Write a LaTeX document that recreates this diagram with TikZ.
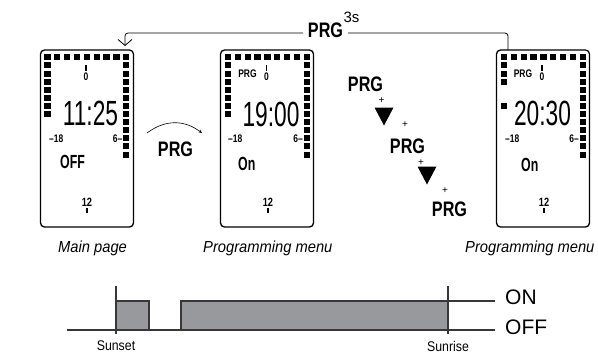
\documentclass[tikz,border=0pt]{standalone}
\usepackage{fontspec}
\setmainfont{Liberation Sans}
\newfontfamily\prgfont[FakeStretch=0.77]{Liberation Sans}
\newfontfamily\lcdfont[FakeStretch=0.65]{Liberation Sans}
\newfontfamily\capfont[FakeStretch=0.92]{Liberation Sans}
\newfontfamily\narrowfont[FakeStretch=0.88]{Liberation Sans}
\usetikzlibrary{arrows.meta}
\definecolor{blockgray}{RGB}{152,153,156}
\definecolor{linegray}{RGB}{55,55,58}
\newcommand\lcdsquares[2]{%
  \foreach \i in {0,...,8} \fill ({#1+4.3+\i*9.85},54.3) rectangle ++(6.3,6);
  \foreach \j in {1,...,12} \fill ({#1+83.1},{54.3+\j*8.1}) rectangle ++(6.3,6);
  \foreach \j in {#2} \fill ({#1+4.3},{54.3+\j*8.1}) rectangle ++(6.3,6);
}
\begin{document}
\begin{tikzpicture}[x=1pt,y=-1pt,
  lcd/.style={draw, line width=1.3pt, rounded corners=4pt, minimum width=93pt, minimum height=177pt, inner sep=0pt},
  prg/.style={font=\prgfont\bfseries\fontsize{21}{21}\selectfont, inner sep=0pt},
  lsmall/.style={font=\prgfont\bfseries\fontsize{11}{11}\selectfont, inner sep=0pt},
  lnum/.style={font=\prgfont\bfseries\fontsize{12}{12}\selectfont, inner sep=0pt},
  lcdtime/.style={font=\lcdfont\fontsize{35}{35}\selectfont, inner sep=0pt},
  lcdstate/.style={font=\lcdfont\bfseries\fontsize{19}{19}\selectfont, inner sep=0pt, anchor=west},
  caption/.style={font=\capfont\itshape\fontsize{16}{16}\selectfont, inner sep=0pt, anchor=base west},
  plus/.style={font=\fontsize{10}{10}\selectfont, inner sep=0pt},
  tickmark/.style={line width=1.1pt},
  tl/.style={draw=linegray, line width=1.2pt},
  onoff/.style={font=\fontsize{21}{21}\selectfont, inner sep=0pt, anchor=west},
  sun/.style={font=\narrowfont\fontsize{14}{14}\selectfont, inner sep=0pt}
]
\useasboundingbox (0,0) rectangle (598,354);

% LCD frames
\node[lcd] (b1) at (87,138.5) {};
\node[lcd] (b2) at (267,138.5) {};
\node[lcd] (b3) at (543,138.5) {};
\lcdsquares{40}{0,...,7}
\lcdsquares{220.5}{0,...,7}
\lcdsquares{496.5}{0,1,2,3,6}

% Box 1
\draw[tickmark] (86,65) -- (86,71);
\node[lsmall] (z1) at (86,76.5) {0};
\node[lcdtime] (t1) at (90.5,113) {11:25};
\node[lsmall, anchor=west] (m1) at (49,139) {\textendash18};
\node[lsmall, anchor=east] (s1) at (122.5,139) {6\textendash};
\node[lcdstate] (st1) at (60,162) {OFF};
\node[lnum] (d1) at (87,202) {12};
\draw[tickmark] (87,208) -- (87,213);

% Box 2
\node[lsmall] (q2) at (247.5,74) {PRG};
\draw[tickmark] (266.5,65) -- (266.5,71);
\node[lsmall] (z2) at (266.5,76.5) {0};
\node[lcdtime] (t2) at (271,114) {19:00};
\node[lsmall, anchor=west] (m2) at (228,139) {\textendash18};
\node[lsmall, anchor=east] (s2) at (303,139) {6\textendash};
\node[lcdstate] (st2) at (238,163.5) {On};
\node[lnum] (d2) at (268,202) {12};
\draw[tickmark] (268,208) -- (268,213);

% Box 3
\node[lsmall] (q3) at (523,73.5) {PRG};
\draw[tickmark] (542,65) -- (542,71);
\node[lsmall] (z3) at (542,76.5) {0};
\node[lcdtime] (t3) at (542.5,113.5) {20:30};
\node[lsmall, anchor=west] (m3) at (505,139) {\textendash18};
\node[lsmall, anchor=east] (s3) at (579,139) {6\textendash};
\node[lcdstate] (st3) at (521,165) {On};
\node[lnum] (d3) at (544,202) {12};
\draw[tickmark] (544,208) -- (544,213);

% captions
\node[caption] (cap1) at (58,252) {Main page};
\node[caption] (cap2) at (203,252) {Programming menu};
\node[caption] (cap3) at (465,252) {Programming menu};

% PRG between box 1 and 2
\coordinate (ca) at (147,133);
\coordinate (cb) at (202,133);
\draw[line width=0.6pt, -{Stealth[length=3.5pt,width=3pt]}] (ca) .. controls (165,119.5) and (184,119.5) .. (cb);
\node[prg] (pm) at (175.5,149.5) {PRG};

% key sequence
\node[prg] (p1) at (365.5,84.5) {PRG};
\node[plus] (pl1) at (381.5,101) {+};
\node[plus] (pl2) at (405,125) {+};
\node[prg] (p2) at (407.5,146.5) {PRG};
\node[plus] (pl3) at (421,163) {+};
\node[plus] (pl4) at (445,191) {+};
\node[prg] (p3) at (449.5,209.5) {PRG};
\fill (374.5,107.5) -- (393.5,107.5) -- (384,125.5) -- cycle;
\fill (417.5,166.5) -- (436.5,166.5) -- (427,184.5) -- cycle;

% top loop
\node[prg] (ptop) at (325.5,30.5) {PRG};
\node[font=\fontsize{15}{15}\selectfont, inner sep=0pt] (three) at (351.5,17.5) {3s};
\coordinate (r0) at (508,50);
\coordinate (rl) at (348,33);
\coordinate (ll) at (303,33);
\coordinate (l0) at (125,46);
\draw[line width=0.8pt, rounded corners=3pt] (r0) |- (rl);
\draw[line width=0.8pt, rounded corners=3pt, -{Straight Barb[length=6pt,width=14pt]}] (ll) -| (l0);

% timing diagram
\filldraw[fill=blockgray, draw=linegray, line width=1.2pt] (116,330) rectangle (149,301);
\filldraw[fill=blockgray, draw=linegray, line width=1.2pt] (181,330) rectangle (448,301);
\draw[tl] (116,286) -- (116,334);
\draw[tl] (448,286) -- (448,334);
\draw[tl] (448,301) -- (495,301);
\draw[tl] (67,330) -- (495,330);
\node[onoff] (on) at (505,297.5) {ON};
\node[onoff] (off) at (505,327.5) {OFF};
\node[sun] (sset) at (116,346) {Sunset};
\node[sun] (srise) at (448,346) {Sunrise};
\end{tikzpicture}
\end{document}
